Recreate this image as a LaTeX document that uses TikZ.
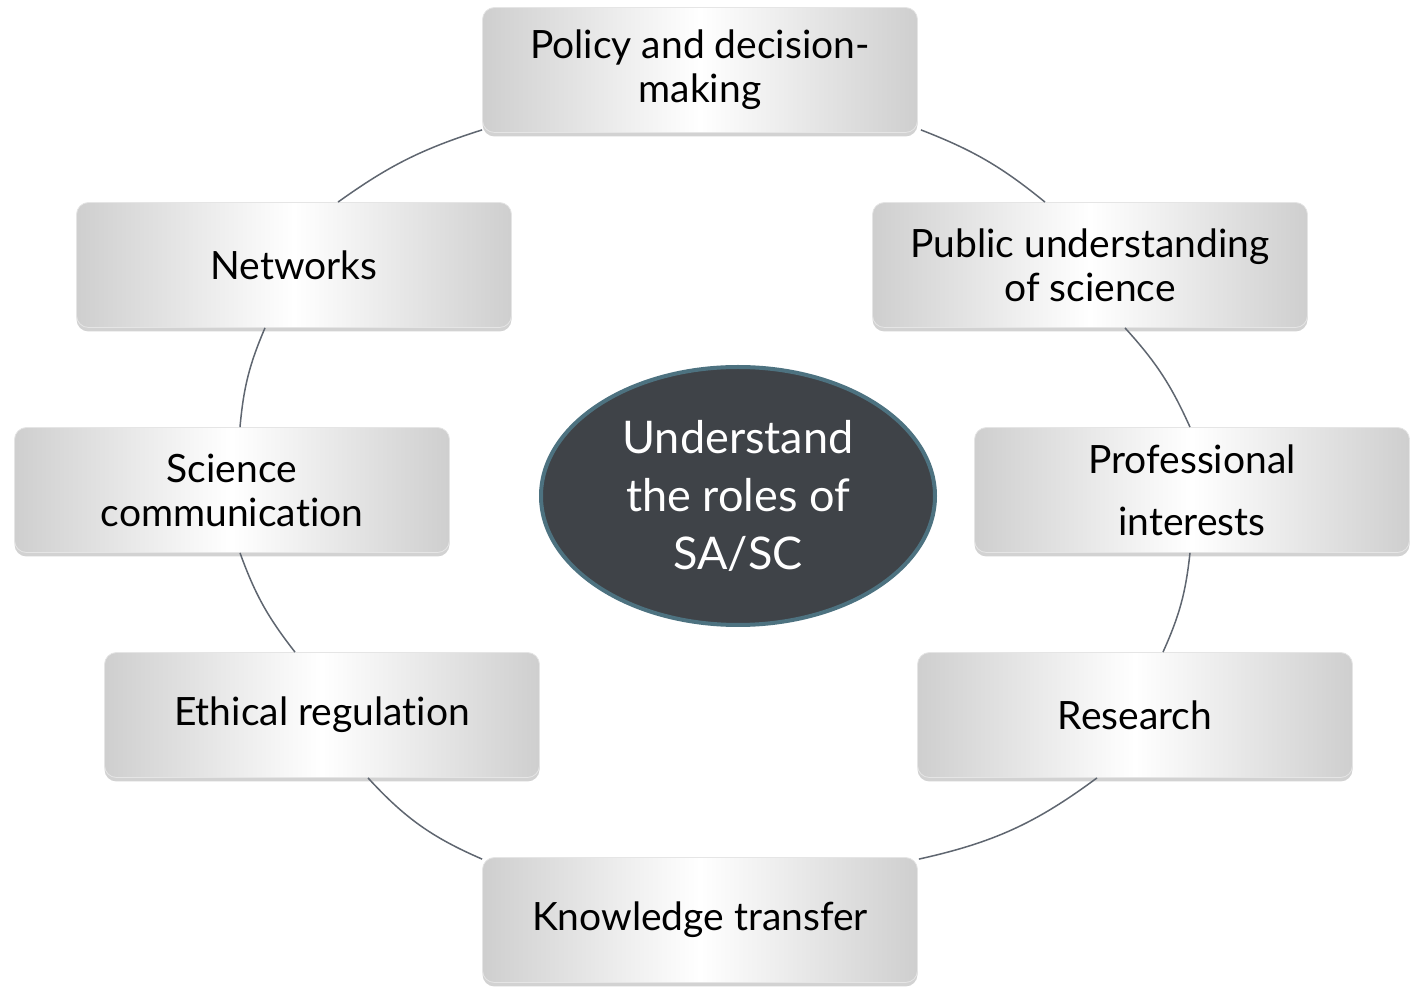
\documentclass[tikz,border=0pt]{standalone}
\usepackage{fontspec}
\setmainfont{Lato}[RawFeature={-liga,-dlig,-calt}]
\usepackage{tikz}
\usetikzlibrary{calc,shapes.geometric,shadows}
\definecolor{hubfill}{HTML}{3F4348}
\definecolor{hubline}{HTML}{4D7280}
\definecolor{arcgray}{HTML}{5F6670}
\tikzset{
    rolebox/.style={rectangle, rounded corners=6pt, minimum width=217.5pt, minimum height=62.5pt,
        left color=black!19, right color=black!19, middle color=white, draw=black!10, thin, align=center,
        font=\fontsize{19.5}{22}\selectfont,
        drop shadow={shadow xshift=0pt, shadow yshift=-2pt, opacity=0.25, fill=black!70}},
    hubellipse/.style={ellipse, minimum width=197pt, minimum height=129pt, fill=hubfill,
        draw=hubline, line width=2pt, text=white, align=center,
        font=\fontsize{22.5}{29}\selectfont},
    cyclearc/.style={draw=arcgray, line width=0.75pt},
}

\begin{document}
\begin{tikzpicture}[x=0.5pt, y=0.5pt]
        \useasboundingbox (0,0) rectangle (1410,-988);
        \node [hubellipse] (hub) at (738,-496) {Understand\\the roles of\\SA/SC};
        \node [rolebox] (policy) at (700,-70) {Policy and decision-\\making};
        \node [rolebox] (public) at (1090,-265) {Public understanding\\of science};
        \node [rolebox, font=\fontsize{19.5}{31}\selectfont] (prof) at (1192,-490) {Professional\\interests};
        \node [rolebox] (research) at (1135,-715) {Research};
        \node [rolebox] (knowledge) at (700,-920) {Knowledge transfer};
        \node [rolebox] (ethical) at (322,-715) {Ethical regulation};
        \node [rolebox] (scicomm) at (232,-490) {Science\\communication};
        \node [rolebox] (networks) at (294,-265) {Networks};
        \draw [cyclearc] ($(policy.south east)+(3,3)$) to [bend left=9] ($(public.north)+(-45,0)$);
        \draw [cyclearc] ($(public.south)+(35,0)$) to [bend left=9] ($(prof.north)+(-2,0)$);
        \draw [cyclearc] ($(prof.south)+(-2,0)$) to [bend left=9] ($(research.north)+(28,0)$);
        \draw [cyclearc] ($(research.south)+(-38,0)$) to [bend left=12] ($(knowledge.north east)+(1,-2)$);
        \draw [cyclearc] ($(knowledge.north west)+(0,-2)$) to [bend left=12] ($(ethical.south)+(46,0)$);
        \draw [cyclearc] ($(ethical.north)+(-27,0)$) to [bend left=9] ($(scicomm.south)+(8,0)$);
        \draw [cyclearc] ($(scicomm.north)+(8,0)$) to [bend left=9] ($(networks.south)+(-29,0)$);
        \draw [cyclearc] ($(networks.north)+(44,0)$) to [bend left=9] ($(policy.south west)+(0,3)$);
\end{tikzpicture}
\end{document}
